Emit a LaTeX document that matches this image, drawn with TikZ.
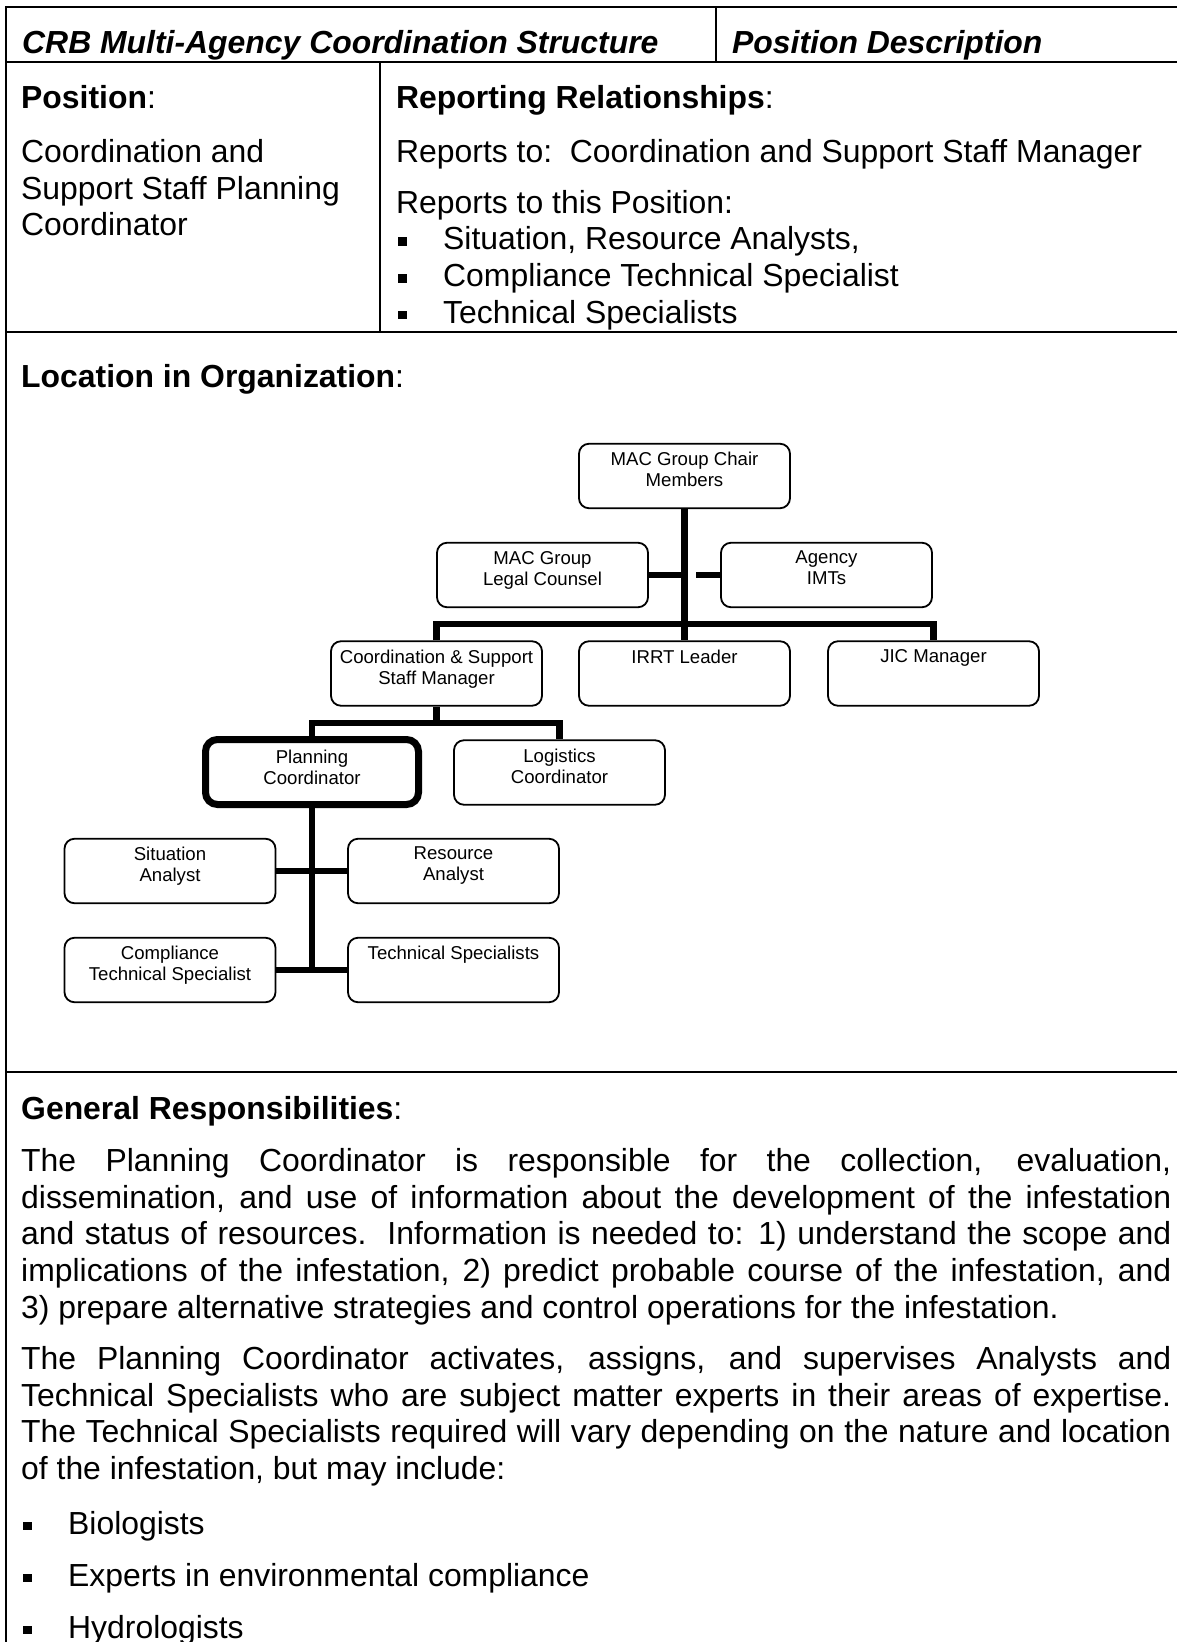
\documentclass[tikz,border=0pt]{standalone}
\usepackage{fontspec}
\setmainfont{Liberation Sans}
\usepackage{tikz}

\newcommand{\tablefont}{\fontsize{31.9}{36.8}\selectfont}
\newcommand{\orgfont}{\fontsize{18.6}{21}\selectfont}
\newcommand{\sqitem}{\makebox[47pt][l]{\hspace{2pt}\rule[4pt]{8.5pt}{8.5pt}}}
\tolerance=10000 \hbadness=10000 \hyphenpenalty=10000

\begin{document}
\begin{tikzpicture}
		[x=1pt,y=-1pt,every node/.style={inner sep=0pt,font=\tablefont},
		cell/.style={anchor=base west,align=left},
		block/.style={anchor=north west,align=left},
		gridline/.style={line width=2.2pt},
		orgbox/.style={draw,rounded corners=10pt,line width=1.8pt,outer sep=0.9pt,minimum width=211pt,minimum height=64.5pt},
		planbox/.style={orgbox,line width=7pt,outer sep=3.5pt,rounded corners=12pt,minimum width=213pt,minimum height=65pt},
		orgtext/.style={anchor=north,align=center,font=\orgfont,inner xsep=0pt,inner ysep=9pt},
		orglink/.style={line width=6.5pt}]
		\useasboundingbox (0,0) rectangle (1177,1642);
		\clip (0,0) rectangle (1177,1642);
		
		\draw[gridline] (1190,7) -- (6,7) -- (6,1660);
		\draw[gridline] (6,62) -- (1190,62);
		\draw[gridline] (716,7) -- (716,62);
		\draw[gridline] (380,62) -- (380,332);
		\draw[gridline] (6,332) -- (1190,332);
		\draw[gridline] (6,1072) -- (1190,1072);
		
		% first baselines sit 25.76pt (one strut) below each block's top
		\node[cell] (title) at (22,53) {\textbf{\textit{CRB Multi-Agency Coordination Structure}}};
		\node[cell] (desc) at (732,53) {\textbf{\textit{Position Description}}};
		\node[cell] (poshead) at (21,108) {\textbf{Position}:};
		\node[block] (posname) at (21,136.24) {\strut Coordination and\\Support Staff Planning\\Coordinator};
		\node[cell] (rephead) at (396,108) {\textbf{Reporting Relationships}:};
		\node[block] (reports) at (396,136.24) {\strut Reports to:\ \ Coordination and Support Staff Manager\\[14pt]Reports to this Position:\\\sqitem Situation, Resource Analysts,\\\sqitem Compliance Technical Specialist\\\sqitem Technical Specialists};
		\node[cell] (lochead) at (21,387) {\textbf{Location in Organization}:};
		\node[cell] (genhead) at (21,1119) {\textbf{General Responsibilities}:};
		\node[block,text width=1150pt,align=justify] (duties) at (21,1145.24) {\setlength{\parindent}{0pt}%
		\strut The Planning Coordinator is responsible for the collection, evaluation,\linebreak
		dissemination, and use of information about the development of the infestation\linebreak
		and status of resources.\ \ Information is needed to: 1) understand the scope and\linebreak
		implications of the infestation, 2) predict probable course of the infestation, and\linebreak
		3) prepare alternative strategies and control operations for the infestation.\par\vspace{14pt}
		The Planning Coordinator activates, assigns, and supervises Analysts and\linebreak
		Technical Specialists who are subject matter experts in their areas of expertise.\linebreak
		The Technical Specialists required will vary depending on the nature and location\linebreak
		of the infestation, but may include:\par\vspace{18pt}
		\sqitem Biologists\par\vspace{15pt}
		\sqitem Experts in environmental compliance\par\vspace{15pt}
		\sqitem Hydrologists\par};
		
		\foreach \n/\x/\y/\txt in {chair/684.5/476/{MAC Group Chair\\Members},
			legal/542.5/575/{MAC Group\\Legal Counsel},
			agency/826.5/575/{Agency\\IMTs},
			coord/436.5/673.5/{Coordination \& Support\\Staff Manager},
			irrt/684.5/673.5/{IRRT Leader},
			jic/933.5/673.5/{JIC Manager},
			logis/559.5/772.5/{Logistics\\Coordinator},
			sit/170/871/{Situation\\Analyst},
			res/453.5/871/{Resource\\Analyst},
			comp/170/970/{Compliance\\Technical Specialist},
			tech/453.5/970/{Technical Specialists}}
		{
		\node[orgbox] (\n) at (\x,\y) {};
		\node[orgtext] (\n-t) at (\n.north) {\txt};
		}
		\node[planbox] (plan) at (312,772) {};
		\node[orgtext,yshift=-5pt] (plan-t) at (plan.north) {Planning\\Coordinator};
		
		\coordinate (hubtop) at (684.5,624);
		\coordinate (hubmid) at (436.5,723);
		\coordinate (imtstub) at (696,575);
		
		\foreach \from/\to in {chair/irrt,sit/res,comp/tech,agency/imtstub}
		\draw[orglink] (\from) -- (\to);
		\draw[orglink] (legal) -- (legal -| chair);
		\draw[orglink] (coord.north) |- (hubtop) -| (jic.north);
		\draw[orglink] (coord.south) -- (hubmid);
		\draw[orglink] (plan.north) |- (hubmid) -| (logis.north);
		\draw[orglink] (plan.south) -- (plan.south |- comp.east);
\end{tikzpicture}
\end{document}
